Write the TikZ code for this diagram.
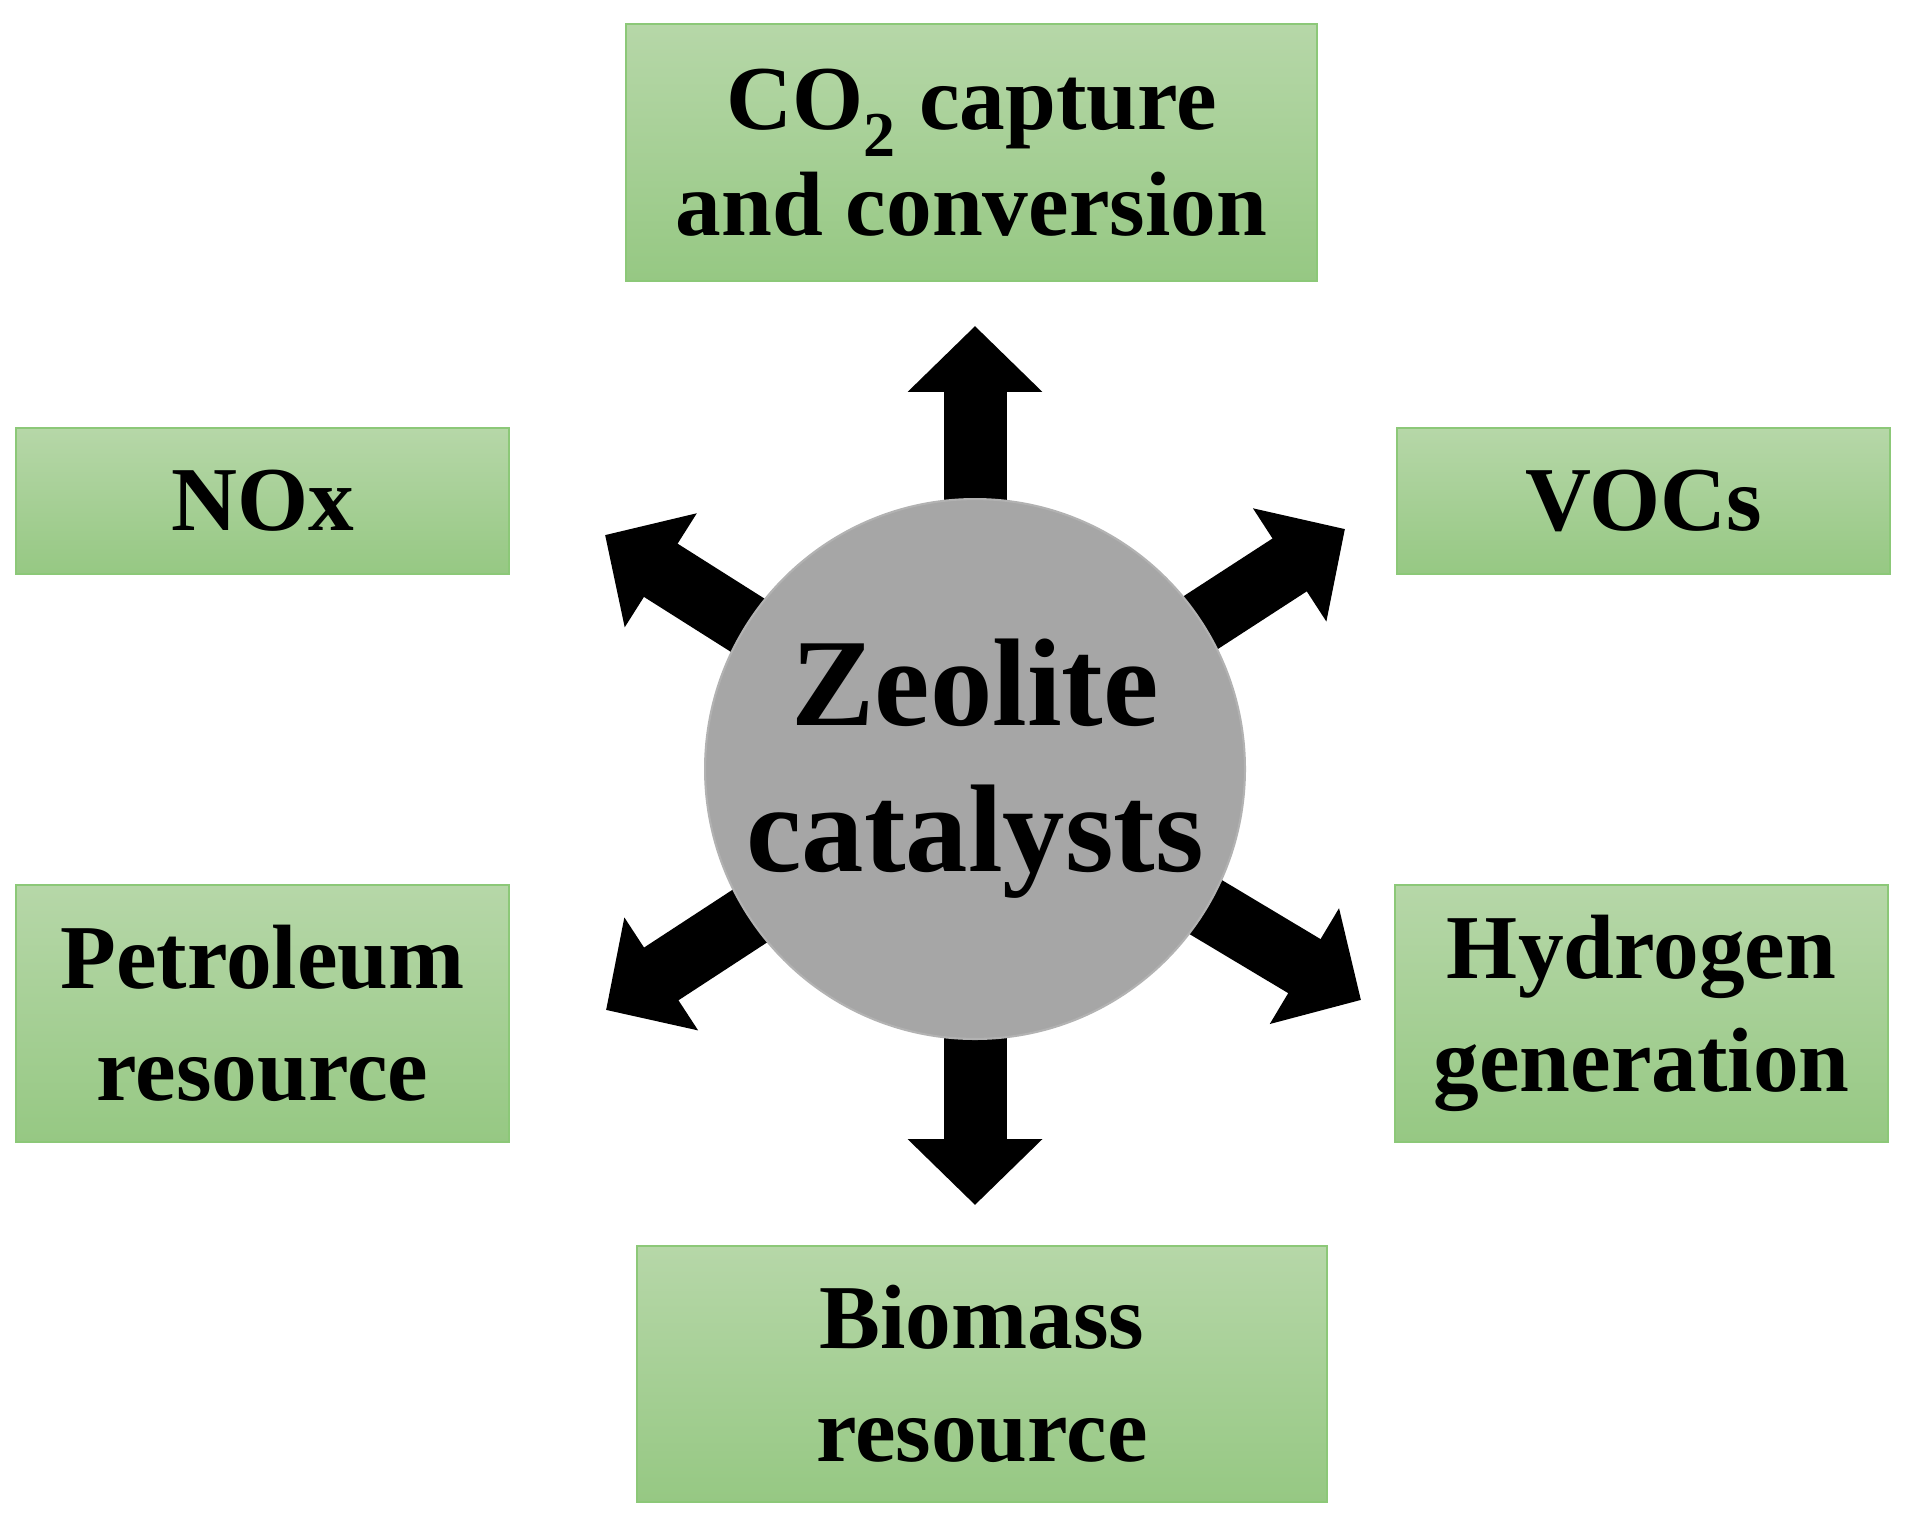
\documentclass[tikz,border=0pt]{standalone}
\usepackage{fontspec}
\setmainfont{Liberation Serif}
\usetikzlibrary{arrows.meta}
\definecolor{gtop}{HTML}{B6D7A8}
\definecolor{gbot}{HTML}{96C883}
\definecolor{gbrd}{HTML}{8CC878}
\tikzset{
  box/.style={draw=gbrd,line width=1.2pt,top color=gtop,bottom color=gbot,
    font=\fontsize{52}{64}\selectfont\bfseries,align=center,inner sep=0pt},
  blk/.style={line width=1.26cm,-{Triangle[length=1.32cm 0,width=2.62cm 0]}}
}
\begin{document}
\begin{tikzpicture}[x=0.02cm,y=-0.02cm]
\useasboundingbox (0,0) rectangle (1905,1528);
\coordinate (c) at (975,769);
\coordinate (tu) at (975,326);
\coordinate (td) at (975,1205);
\coordinate (tul) at (605,535);
\coordinate (tur) at (1345,529);
\coordinate (tll) at (606,1010);
\coordinate (tlr) at (1361,1000);
\foreach \t in {tu,td,tul,tur,tll,tlr} \draw[blk] (c) -- (\t);
\node[circle,draw=gray!140!black,line width=1.2pt,fill=black!35,minimum size=10.8cm,inner sep=0pt,
  font=\fontsize{71}{83}\selectfont\bfseries,align=center] (z) at (c) {Zeolite\\catalysts};
\node[box,minimum width=13.82cm,minimum height=5.14cm] (co2) at (971.5,152.5) {CO\textsubscript{2} capture\\[-4pt]and conversion};
\node[box,minimum width=9.86cm,minimum height=2.92cm] (nox) at (262.5,501) {NOx};
\node[box,minimum width=9.86cm,minimum height=2.92cm] (voc) at (1643.5,501) {VOCs};
\node[box,minimum width=9.86cm,minimum height=5.14cm] (pet) at (262.5,1013.5) {Petroleum\\resource};
\node[box,minimum width=9.86cm,minimum height=5.14cm] (hyd) at (1641.5,1013.5) {Hydrogen\\generation};
\node[box,minimum width=13.8cm,minimum height=5.12cm] (bio) at (982,1374) {Biomass\\resource};
\end{tikzpicture}
\end{document}
